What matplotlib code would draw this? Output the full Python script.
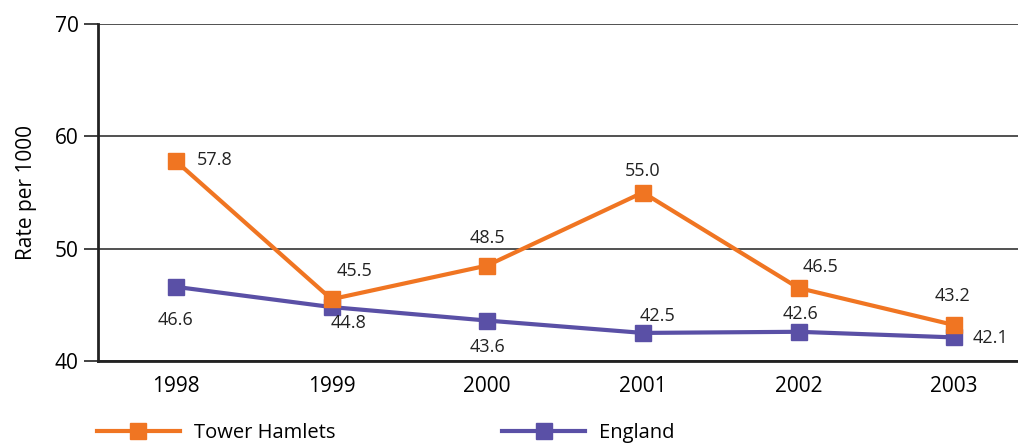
import matplotlib.pyplot as plt

plt.rcParams['font.family'] = ['Open Sans', 'DejaVu Sans']

years = ['1998', '1999', '2000', '2001', '2002', '2003']
tower_hamlets = [57.8, 45.5, 48.5, 55.0, 46.5, 43.2]
england = [46.6, 44.8, 43.6, 42.5, 42.6, 42.1]

# label offsets in pixels (dx, dy) for each point
th_offsets = [(39, 1), (23, 28), (0, 28), (0, 22), (22, 21), (-2, 29)]
en_offsets = [(0, -33), (17, -16), (0, -26), (15, 17), (2, 18), (36, -1)]

orange = '#F07522'
purple = '#5A50A6'

fig = plt.figure(figsize=(10.18, 4.45), dpi=100)
ax = fig.add_axes([98 / 1018, 1 - 361 / 445, 1 - 98 / 1018, 337 / 445])

x = list(range(len(years)))
ax.plot(x, england, color=purple, lw=3, marker='s', ms=11, label='England', zorder=3)
ax.plot(x, tower_hamlets, color=orange, lw=3, marker='s', ms=11, label='Tower Hamlets', zorder=4)

for xi, v, off in zip(x, tower_hamlets, th_offsets):
    ax.annotate(f'{v:.1f}', (xi, v), xytext=off, textcoords='offset pixels',
                ha='center', va='center', fontsize=13, color='#222222')
for xi, v, off in zip(x, england, en_offsets):
    ax.annotate(f'{v:.1f}', (xi, v), xytext=off, textcoords='offset pixels',
                ha='center', va='center', fontsize=13, color='#222222')

ax.set_xlim(-0.5, 5.41)
ax.set_ylim(40, 70)
ax.set_yticks([40, 50, 60, 70])
ax.set_xticks(x)
ax.set_xticklabels(years)
ax.tick_params(axis='y', length=10, width=1.2, labelsize=15, pad=4, color='#222222')
ax.tick_params(axis='x', length=0, labelsize=15, pad=11)
ax.yaxis.grid(True, color='#333333', lw=1.2)
ax.set_axisbelow(True)
for side in ['top', 'right']:
    ax.spines[side].set_visible(False)
for side in ['left', 'bottom']:
    ax.spines[side].set_linewidth(2)
    ax.spines[side].set_color('#222222')
ax.set_ylabel('Rate per 1000', fontsize=15, labelpad=13)

handles, labels = ax.get_legend_handles_labels()
fig.legend(handles[::-1], labels[::-1], loc='center left',
           bbox_to_anchor=(97 / 1018, 1 - 433 / 445),
           ncol=2, frameon=False, fontsize=14.5, handlelength=4.1, columnspacing=8.3,
           handletextpad=0.7, borderpad=0, borderaxespad=0)

fig.savefig('out.png', dpi=100)
